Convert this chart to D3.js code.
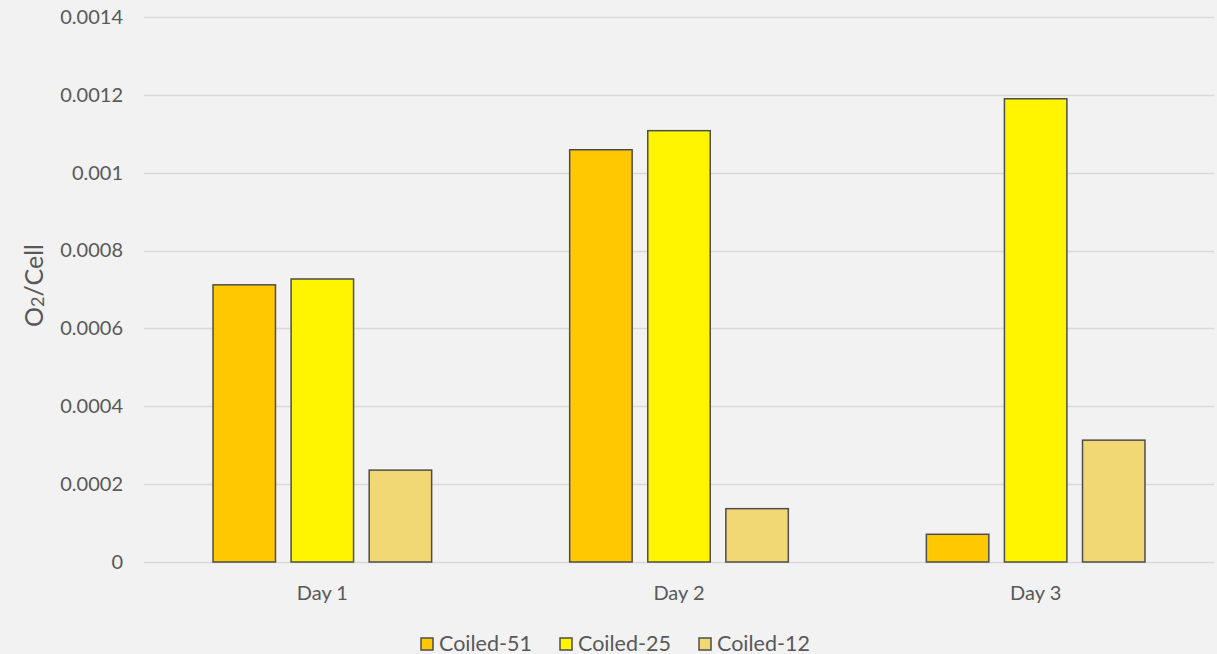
<!DOCTYPE html>
<html>
<head>
<meta charset="utf-8">
<script src="https://cdn.jsdelivr.net/npm/d3@7"></script>
<style>
  html, body { margin: 0; padding: 0; background: #f2f2f2; }
  svg { display: block; font-family: 'Lato', 'Open Sans', sans-serif; }
</style>
</head>
<body>
<svg id="chart" width="1217" height="654"></svg>
<script>
const days = ['Day 1', 'Day 2', 'Day 3']
const seriesNames = ['Coiled-51', 'Coiled-25', 'Coiled-12']
const coiled51 = [0.000712, 0.001059, 0.0000712]
const coiled25 = [0.000727, 0.001108, 0.00119]
const coiled12 = [0.000236, 0.000137, 0.000313]
const yTicks = [0, 0.0002, 0.0004, 0.0006, 0.0008, 0.001, 0.0012, 0.0014]

const colors = ['#ffc800', '#fff500', '#f2d875']
const seriesValues = [coiled51, coiled25, coiled12]

const width = 1217
const height = 654
const margin = { top: 17, right: 3, bottom: 92, left: 144 }

const svg = d3.select('#chart')
svg.append('rect').attr('width', width).attr('height', height).attr('fill', '#f2f2f2')

const g = svg.append('g').attr('transform', `translate(${margin.left}, ${margin.top})`)
const innerW = width - margin.left - margin.right
const innerH = height - margin.top - margin.bottom

const x = d3.scaleBand().domain(days).range([0, innerW]).paddingInner(0.387).paddingOuter(0.1935)
const xSub = d3.scaleBand().domain(seriesNames).range([0, x.bandwidth()]).paddingInner(0.2)
const y = d3.scaleLinear().domain([0, 0.0014]).range([innerH, 0])

// gridlines
g.append('g')
  .selectAll('line')
  .data(yTicks)
  .join('line')
  .attr('x1', 0)
  .attr('x2', innerW)
  .attr('y1', (d) => Math.round(y(d)) + 0.5)
  .attr('y2', (d) => Math.round(y(d)) + 0.5)
  .attr('stroke', '#d9d9d9')
  .attr('stroke-width', 1.5)

// y axis labels
const axisY = d3.axisLeft(y).tickValues(yTicks).tickSize(0).tickPadding(21).tickFormat((d) => String(+d.toFixed(4)))
g.append('g')
  .call(axisY)
  .call((s) => s.select('.domain').remove())
  .call((s) => s.selectAll('text').attr('fill', '#595959').style('font-size', '20px').style('font-family', 'Lato, sans-serif'))

// x axis labels
const axisX = d3.axisBottom(x).tickSize(0).tickPadding(24)
g.append('g')
  .attr('transform', `translate(0, ${innerH})`)
  .call(axisX)
  .call((s) => s.select('.domain').remove())
  .call((s) => s.selectAll('text').attr('fill', '#595959').style('font-size', '20px').style('font-family', 'Lato, sans-serif'))

// bars
const groups = g.append('g')
  .selectAll('g')
  .data(days)
  .join('g')
  .attr('transform', (d) => `translate(${x(d)}, 0)`)

groups.selectAll('rect')
  .data((d, i) => seriesNames.map((name, k) => ({ name, k, value: seriesValues[k][i] })))
  .join('rect')
  .attr('x', (d) => xSub(d.name))
  .attr('y', (d) => y(d.value))
  .attr('width', xSub.bandwidth())
  .attr('height', (d) => innerH - y(d.value))
  .attr('fill', (d) => colors[d.k])
  .attr('stroke', '#4d4d4d')
  .attr('stroke-width', 1.5)

// y axis title
const title = svg.append('text')
  .attr('transform', `translate(43, ${margin.top + innerH / 2 - 4}) rotate(-90)`)
  .attr('text-anchor', 'middle')
  .attr('fill', '#595959')
  .style('font-size', '25px')
title.append('tspan').text('O')
title.append('tspan').style('font-size', '18px').attr('dy', 1).text('2')
title.append('tspan').attr('dy', -1).text('/Cell')

// legend
const legendX = [421, 560, 699]
const legend = svg.append('g').attr('transform', 'translate(0, 638)')
const item = legend.selectAll('g')
  .data(seriesNames)
  .join('g')
  .attr('transform', (d, i) => `translate(${legendX[i]}, 0)`)
item.append('rect')
  .attr('width', 12)
  .attr('height', 12)
  .attr('fill', (d, i) => colors[i])
  .attr('stroke', '#4d4d4d')
  .attr('stroke-width', 1.5)
item.append('text')
  .attr('x', 18)
  .attr('y', 12.5)
  .attr('fill', '#595959')
  .style('font-size', '21.5px')
  .text((d) => d)
</script>
</body>
</html>
